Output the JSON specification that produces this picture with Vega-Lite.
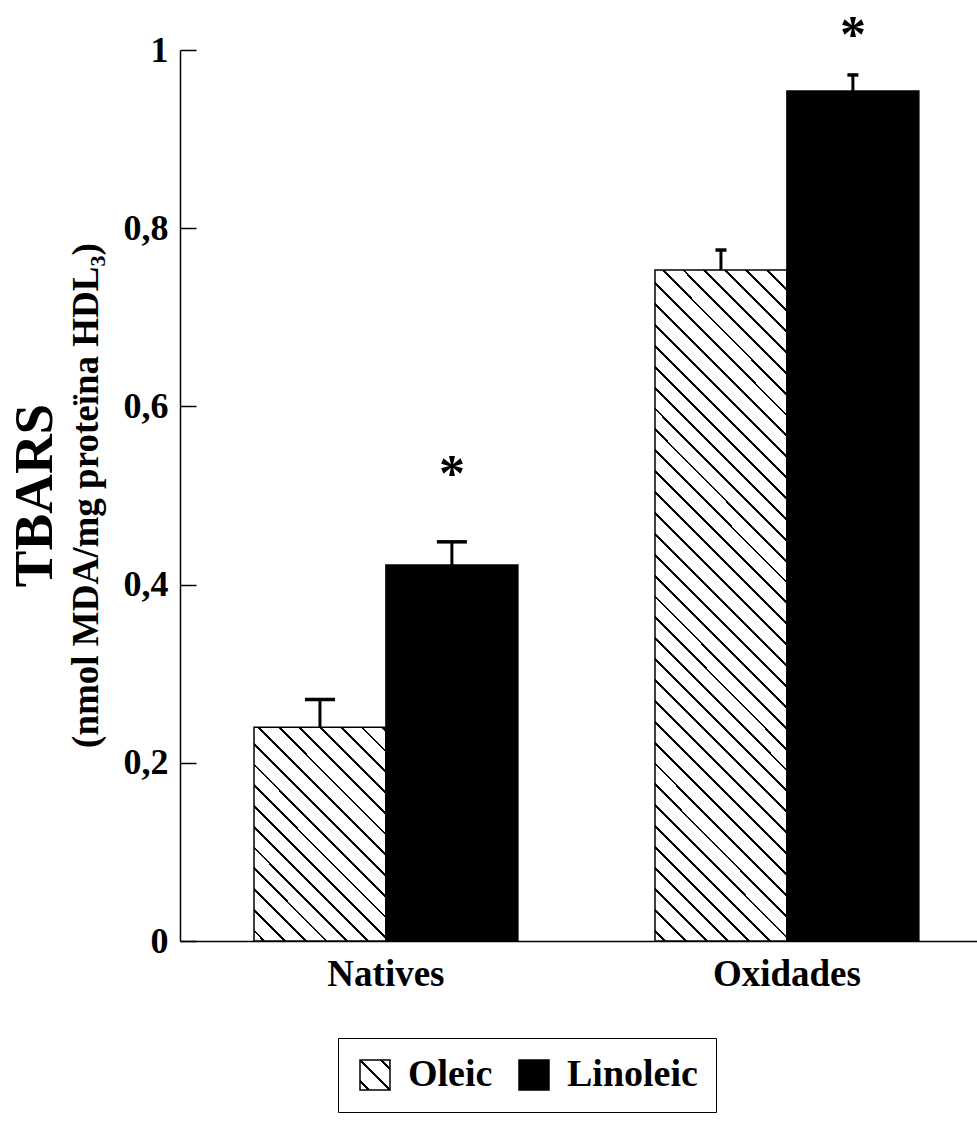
{
  "$schema": "https://vega.github.io/schema/vega-lite/v6.json",
  "autosize": {"type": "none"},
  "padding": {"left": 180, "top": 50, "right": 0, "bottom": 185},
  "width": 797,
  "height": 891,
  "background": "white",
  "params": [
    {"name": "hatchLegend", "value": {"gradient": "linear", "x1": 0, "y1": 1, "x2": 1, "y2": 0, "stops": [
      {"offset": 0.127, "color": "#fff"}, {"offset": 0.127, "color": "#000"}, {"offset": 0.179, "color": "#000"}, {"offset": 0.179, "color": "#fff"},
      {"offset": 0.474, "color": "#fff"}, {"offset": 0.474, "color": "#000"}, {"offset": 0.526, "color": "#000"}, {"offset": 0.526, "color": "#fff"},
      {"offset": 0.821, "color": "#fff"}, {"offset": 0.821, "color": "#000"}, {"offset": 0.873, "color": "#000"}, {"offset": 0.873, "color": "#fff"}
    ]}}
  ],
  "config": {
    "font": "Liberation Serif",
    "view": {"stroke": null},
    "axis": {"labelFont": "Liberation Serif", "labelFontWeight": "bold", "labelColor": "black", "domainColor": "black", "tickColor": "black", "grid": false}
  },
  "title": {
    "text": "TBARS",
    "subtitle": "(nmol MDA/mg proteïna HDL₃)",
    "orient": "left",
    "anchor": "middle",
    "frame": "group",
    "font": "Liberation Serif",
    "fontSize": 55,
    "fontWeight": "bold",
    "color": "black",
    "subtitleFont": "Liberation Serif",
    "subtitleFontSize": 37,
    "subtitleFontWeight": "bold",
    "subtitleColor": "black",
    "subtitlePadding": 5,
    "offset": 17
  },
  "datasets": {
    "bars": [
      {"group": "Natives", "series": "Oleic", "value": 0.240, "err": 0.271},
      {"group": "Natives", "series": "Linoleic", "value": 0.422, "err": 0.448},
      {"group": "Oxidades", "series": "Oleic", "value": 0.753, "err": 0.7755},
      {"group": "Oxidades", "series": "Linoleic", "value": 0.954, "err": 0.972}
    ],
    "sig": [
      {"group": "Natives", "series": "Linoleic", "y": 0.532, "label": "*"},
      {"group": "Oxidades", "series": "Linoleic", "y": 1.025, "label": "*"}
    ]
  },
  "encoding": {
    "x": {
      "field": "group", "type": "nominal", "sort": ["Natives", "Oxidades"],
      "scale": {"paddingInner": 0.342, "paddingOuter": 0.1648, "align": 0.56},
      "axis": {"title": null, "ticks": false, "labelAngle": 0, "labelFontSize": 37, "labelPadding": 15, "domainWidth": 1.5}
    },
    "xOffset": {"field": "series", "type": "nominal", "scale": {"domain": ["Oleic", "Linoleic"]}}
  },
  "layer": [
    {
      "data": {"name": "bars"},
      "mark": {"type": "bar", "strokeWidth": 1.5},
      "encoding": {
        "y": {
          "field": "value", "type": "quantitative",
          "scale": {"domain": [0, 1], "nice": false, "zero": true},
          "axis": {"title": null, "values": [0, 0.2, 0.4, 0.6, 0.8, 1], "labelExpr": "replace(format(datum.value, '~g'), '.', ',')", "labelFontSize": 36, "tickSize": -16, "labelPadding": 28, "tickWidth": 1.5, "domainWidth": 1.5}
        },
        "stroke": {
          "field": "series", "type": "nominal",
          "scale": {"domain": ["Oleic", "Linoleic"], "range": ["black", "black"]}
        },
        "fill": {
          "field": "series", "type": "nominal",
          "scale": {"domain": ["Oleic", "Linoleic"], "range": [{"expr": "hatchLegend"}, "black"]},
          "condition": [
            {"test": "datum.group === 'Natives' && datum.series === 'Oleic'",
             "value": {"gradient": "linear", "x1": 0, "y1": 1, "x2": 0.723, "y2": -0.171, "stops": [
              {"offset": 0.026, "color": "#fff"}, {"offset": 0.026, "color": "#000"}, {"offset": 0.034, "color": "#000"}, {"offset": 0.034, "color": "#fff"},
              {"offset": 0.086, "color": "#fff"}, {"offset": 0.086, "color": "#000"}, {"offset": 0.094, "color": "#000"}, {"offset": 0.094, "color": "#fff"},
              {"offset": 0.146, "color": "#fff"}, {"offset": 0.146, "color": "#000"}, {"offset": 0.154, "color": "#000"}, {"offset": 0.154, "color": "#fff"},
              {"offset": 0.206, "color": "#fff"}, {"offset": 0.206, "color": "#000"}, {"offset": 0.214, "color": "#000"}, {"offset": 0.214, "color": "#fff"},
              {"offset": 0.266, "color": "#fff"}, {"offset": 0.266, "color": "#000"}, {"offset": 0.274, "color": "#000"}, {"offset": 0.274, "color": "#fff"},
              {"offset": 0.326, "color": "#fff"}, {"offset": 0.326, "color": "#000"}, {"offset": 0.334, "color": "#000"}, {"offset": 0.334, "color": "#fff"},
              {"offset": 0.386, "color": "#fff"}, {"offset": 0.386, "color": "#000"}, {"offset": 0.394, "color": "#000"}, {"offset": 0.394, "color": "#fff"},
              {"offset": 0.446, "color": "#fff"}, {"offset": 0.446, "color": "#000"}, {"offset": 0.454, "color": "#000"}, {"offset": 0.454, "color": "#fff"},
              {"offset": 0.506, "color": "#fff"}, {"offset": 0.506, "color": "#000"}, {"offset": 0.514, "color": "#000"}, {"offset": 0.514, "color": "#fff"},
              {"offset": 0.566, "color": "#fff"}, {"offset": 0.566, "color": "#000"}, {"offset": 0.574, "color": "#000"}, {"offset": 0.574, "color": "#fff"},
              {"offset": 0.626, "color": "#fff"}, {"offset": 0.626, "color": "#000"}, {"offset": 0.634, "color": "#000"}, {"offset": 0.634, "color": "#fff"},
              {"offset": 0.686, "color": "#fff"}, {"offset": 0.686, "color": "#000"}, {"offset": 0.694, "color": "#000"}, {"offset": 0.694, "color": "#fff"},
              {"offset": 0.746, "color": "#fff"}, {"offset": 0.746, "color": "#000"}, {"offset": 0.754, "color": "#000"}, {"offset": 0.754, "color": "#fff"},
              {"offset": 0.806, "color": "#fff"}, {"offset": 0.806, "color": "#000"}, {"offset": 0.814, "color": "#000"}, {"offset": 0.814, "color": "#fff"},
              {"offset": 0.866, "color": "#fff"}, {"offset": 0.866, "color": "#000"}, {"offset": 0.874, "color": "#000"}, {"offset": 0.874, "color": "#fff"},
              {"offset": 0.926, "color": "#fff"}, {"offset": 0.926, "color": "#000"}, {"offset": 0.934, "color": "#000"}, {"offset": 0.934, "color": "#fff"},
              {"offset": 0.986, "color": "#fff"}, {"offset": 0.986, "color": "#000"}, {"offset": 0.994, "color": "#000"}, {"offset": 0.994, "color": "#fff"}
             ]}},
            {"test": "datum.group === 'Oxidades' && datum.series === 'Oleic'",
             "value": {"gradient": "linear", "x1": 0, "y1": 1, "x2": 0.227, "y2": -0.1523, "stops": [
              {"offset": 0.0112, "color": "#fff"}, {"offset": 0.0112, "color": "#000"}, {"offset": 0.0148, "color": "#000"}, {"offset": 0.0148, "color": "#fff"},
              {"offset": 0.0372, "color": "#fff"}, {"offset": 0.0372, "color": "#000"}, {"offset": 0.0408, "color": "#000"}, {"offset": 0.0408, "color": "#fff"},
              {"offset": 0.0632, "color": "#fff"}, {"offset": 0.0632, "color": "#000"}, {"offset": 0.0668, "color": "#000"}, {"offset": 0.0668, "color": "#fff"},
              {"offset": 0.0892, "color": "#fff"}, {"offset": 0.0892, "color": "#000"}, {"offset": 0.0928, "color": "#000"}, {"offset": 0.0928, "color": "#fff"},
              {"offset": 0.1152, "color": "#fff"}, {"offset": 0.1152, "color": "#000"}, {"offset": 0.1188, "color": "#000"}, {"offset": 0.1188, "color": "#fff"},
              {"offset": 0.1412, "color": "#fff"}, {"offset": 0.1412, "color": "#000"}, {"offset": 0.1448, "color": "#000"}, {"offset": 0.1448, "color": "#fff"},
              {"offset": 0.1672, "color": "#fff"}, {"offset": 0.1672, "color": "#000"}, {"offset": 0.1708, "color": "#000"}, {"offset": 0.1708, "color": "#fff"},
              {"offset": 0.1932, "color": "#fff"}, {"offset": 0.1932, "color": "#000"}, {"offset": 0.1968, "color": "#000"}, {"offset": 0.1968, "color": "#fff"},
              {"offset": 0.2192, "color": "#fff"}, {"offset": 0.2192, "color": "#000"}, {"offset": 0.2228, "color": "#000"}, {"offset": 0.2228, "color": "#fff"},
              {"offset": 0.2452, "color": "#fff"}, {"offset": 0.2452, "color": "#000"}, {"offset": 0.2488, "color": "#000"}, {"offset": 0.2488, "color": "#fff"},
              {"offset": 0.2712, "color": "#fff"}, {"offset": 0.2712, "color": "#000"}, {"offset": 0.2748, "color": "#000"}, {"offset": 0.2748, "color": "#fff"},
              {"offset": 0.2972, "color": "#fff"}, {"offset": 0.2972, "color": "#000"}, {"offset": 0.3008, "color": "#000"}, {"offset": 0.3008, "color": "#fff"},
              {"offset": 0.3232, "color": "#fff"}, {"offset": 0.3232, "color": "#000"}, {"offset": 0.3268, "color": "#000"}, {"offset": 0.3268, "color": "#fff"},
              {"offset": 0.3492, "color": "#fff"}, {"offset": 0.3492, "color": "#000"}, {"offset": 0.3528, "color": "#000"}, {"offset": 0.3528, "color": "#fff"},
              {"offset": 0.3752, "color": "#fff"}, {"offset": 0.3752, "color": "#000"}, {"offset": 0.3788, "color": "#000"}, {"offset": 0.3788, "color": "#fff"},
              {"offset": 0.4012, "color": "#fff"}, {"offset": 0.4012, "color": "#000"}, {"offset": 0.4048, "color": "#000"}, {"offset": 0.4048, "color": "#fff"},
              {"offset": 0.4272, "color": "#fff"}, {"offset": 0.4272, "color": "#000"}, {"offset": 0.4308, "color": "#000"}, {"offset": 0.4308, "color": "#fff"},
              {"offset": 0.4532, "color": "#fff"}, {"offset": 0.4532, "color": "#000"}, {"offset": 0.4568, "color": "#000"}, {"offset": 0.4568, "color": "#fff"},
              {"offset": 0.4792, "color": "#fff"}, {"offset": 0.4792, "color": "#000"}, {"offset": 0.4828, "color": "#000"}, {"offset": 0.4828, "color": "#fff"},
              {"offset": 0.5052, "color": "#fff"}, {"offset": 0.5052, "color": "#000"}, {"offset": 0.5088, "color": "#000"}, {"offset": 0.5088, "color": "#fff"},
              {"offset": 0.5312, "color": "#fff"}, {"offset": 0.5312, "color": "#000"}, {"offset": 0.5348, "color": "#000"}, {"offset": 0.5348, "color": "#fff"},
              {"offset": 0.5572, "color": "#fff"}, {"offset": 0.5572, "color": "#000"}, {"offset": 0.5608, "color": "#000"}, {"offset": 0.5608, "color": "#fff"},
              {"offset": 0.5832, "color": "#fff"}, {"offset": 0.5832, "color": "#000"}, {"offset": 0.5868, "color": "#000"}, {"offset": 0.5868, "color": "#fff"},
              {"offset": 0.6092, "color": "#fff"}, {"offset": 0.6092, "color": "#000"}, {"offset": 0.6128, "color": "#000"}, {"offset": 0.6128, "color": "#fff"},
              {"offset": 0.6352, "color": "#fff"}, {"offset": 0.6352, "color": "#000"}, {"offset": 0.6388, "color": "#000"}, {"offset": 0.6388, "color": "#fff"},
              {"offset": 0.6612, "color": "#fff"}, {"offset": 0.6612, "color": "#000"}, {"offset": 0.6648, "color": "#000"}, {"offset": 0.6648, "color": "#fff"},
              {"offset": 0.6872, "color": "#fff"}, {"offset": 0.6872, "color": "#000"}, {"offset": 0.6908, "color": "#000"}, {"offset": 0.6908, "color": "#fff"},
              {"offset": 0.7132, "color": "#fff"}, {"offset": 0.7132, "color": "#000"}, {"offset": 0.7168, "color": "#000"}, {"offset": 0.7168, "color": "#fff"},
              {"offset": 0.7392, "color": "#fff"}, {"offset": 0.7392, "color": "#000"}, {"offset": 0.7428, "color": "#000"}, {"offset": 0.7428, "color": "#fff"},
              {"offset": 0.7652, "color": "#fff"}, {"offset": 0.7652, "color": "#000"}, {"offset": 0.7688, "color": "#000"}, {"offset": 0.7688, "color": "#fff"},
              {"offset": 0.7912, "color": "#fff"}, {"offset": 0.7912, "color": "#000"}, {"offset": 0.7948, "color": "#000"}, {"offset": 0.7948, "color": "#fff"},
              {"offset": 0.8172, "color": "#fff"}, {"offset": 0.8172, "color": "#000"}, {"offset": 0.8208, "color": "#000"}, {"offset": 0.8208, "color": "#fff"},
              {"offset": 0.8432, "color": "#fff"}, {"offset": 0.8432, "color": "#000"}, {"offset": 0.8468, "color": "#000"}, {"offset": 0.8468, "color": "#fff"},
              {"offset": 0.8692, "color": "#fff"}, {"offset": 0.8692, "color": "#000"}, {"offset": 0.8728, "color": "#000"}, {"offset": 0.8728, "color": "#fff"},
              {"offset": 0.8952, "color": "#fff"}, {"offset": 0.8952, "color": "#000"}, {"offset": 0.8988, "color": "#000"}, {"offset": 0.8988, "color": "#fff"},
              {"offset": 0.9212, "color": "#fff"}, {"offset": 0.9212, "color": "#000"}, {"offset": 0.9248, "color": "#000"}, {"offset": 0.9248, "color": "#fff"},
              {"offset": 0.9472, "color": "#fff"}, {"offset": 0.9472, "color": "#000"}, {"offset": 0.9508, "color": "#000"}, {"offset": 0.9508, "color": "#fff"},
              {"offset": 0.9732, "color": "#fff"}, {"offset": 0.9732, "color": "#000"}, {"offset": 0.9768, "color": "#000"}, {"offset": 0.9768, "color": "#fff"}
             ]}}
          ],
          "legend": {
            "title": null,
            "orient": "none",
            "legendX": 158,
            "legendY": 988,
            "direction": "horizontal",
            "symbolType": "square",
            "symbolSize": 900,
            "symbolStrokeColor": "black",
            "symbolStrokeWidth": 1.5,
            "labelFont": "Liberation Serif",
            "labelFontSize": 38,
            "labelFontWeight": "bold",
            "labelColor": "black",
            "labelOffset": 14,
            "labelLimit": 0,
            "columnPadding": 22,
            "padding": 18,
            "strokeColor": "black"
          }
        }
      }
    },
    {
      "data": {"name": "bars"},
      "mark": {"type": "rule", "color": "black", "strokeWidth": 3, "opacity": 1},
      "encoding": {
        "y": {"field": "value", "type": "quantitative", "axis": {"title": null, "values": [0, 0.2, 0.4, 0.6, 0.8, 1], "labelExpr": "replace(format(datum.value, '~g'), '.', ',')", "labelFontSize": 36, "tickSize": -16, "labelPadding": 28, "tickWidth": 1.5, "domainWidth": 1.5}},
        "y2": {"field": "err"}
      }
    },
    {
      "data": {"name": "bars"},
      "mark": {"type": "tick", "color": "black", "thickness": 3.5, "orient": "horizontal", "opacity": 1},
      "encoding": {
        "y": {"field": "err", "type": "quantitative", "axis": {"title": null, "values": [0, 0.2, 0.4, 0.6, 0.8, 1], "labelExpr": "replace(format(datum.value, '~g'), '.', ',')", "labelFontSize": 36, "tickSize": -16, "labelPadding": 28, "tickWidth": 1.5, "domainWidth": 1.5}},
        "size": {"condition": {"test": "datum.group === 'Natives'", "value": 30}, "value": 11}
      }
    },
    {
      "data": {"name": "sig"},
      "mark": {"type": "text", "font": "Liberation Serif", "fontSize": 52, "fontWeight": "bold", "color": "black", "baseline": "middle", "align": "center", "dy": 8},
      "encoding": {
        "y": {"field": "y", "type": "quantitative", "axis": {"title": null, "values": [0, 0.2, 0.4, 0.6, 0.8, 1], "labelExpr": "replace(format(datum.value, '~g'), '.', ',')", "labelFontSize": 36, "tickSize": -16, "labelPadding": 28, "tickWidth": 1.5, "domainWidth": 1.5}},
        "text": {"field": "label"}
      }
    }
  ]
}
